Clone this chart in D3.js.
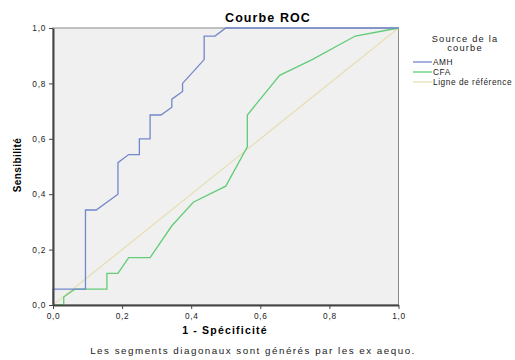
<!DOCTYPE html>
<html>
<head>
<meta charset="utf-8">
<script src="https://cdn.jsdelivr.net/npm/d3@7"></script>
<style>
body { margin: 0; background: #fff; }
text { font-family: "Liberation Sans", Arial, sans-serif; }
</style>
</head>
<body>
<div id="viz"></div>
<script>
// courbes ROC (x = 1 - spécificité, y = sensibilité)
var amhX = [0, 0, 0.094, 0.094, 0.125, 0.188, 0.188, 0.219, 0.25, 0.25, 0.281, 0.281, 0.3125, 0.344, 0.344, 0.375, 0.375, 0.4375, 0.4375, 0.469, 0.5, 1];
var amhY = [0, 0.057, 0.057, 0.343, 0.343, 0.4, 0.514, 0.543, 0.543, 0.6, 0.6, 0.686, 0.686, 0.714, 0.743, 0.771, 0.8, 0.886, 0.971, 0.971, 1, 1];
var cfaX = [0, 0.031, 0.031, 0.063, 0.156, 0.156, 0.188, 0.219, 0.281, 0.344, 0.406, 0.5, 0.5625, 0.5625, 0.656, 0.75, 0.875, 1];
var cfaY = [0, 0, 0.029, 0.057, 0.057, 0.114, 0.114, 0.171, 0.171, 0.286, 0.371, 0.429, 0.571, 0.686, 0.829, 0.886, 0.971, 1];
var refX = [0, 1];
var refY = [0, 1];
var ticks = [0, 0.2, 0.4, 0.6, 0.8, 1.0];
var seriesNames = ["AMH", "CFA", "Ligne de référence"];
var seriesColors = ["#7387cb", "#62cc78", "#e6dfb6"];

var width = 515, height = 360;
var margin = {top: 28, left: 53, right: 116.5, bottom: 55};

var svg = d3.select("#viz").append("svg")
    .attr("width", width).attr("height", height);

var x = d3.scaleLinear().domain([0, 1]).range([margin.left, width - margin.right]);
var y = d3.scaleLinear().domain([0, 1]).range([height - margin.bottom, margin.top]);

svg.append("rect")
    .attr("x", x(0)).attr("y", y(1))
    .attr("width", x(1) - x(0)).attr("height", y(0) - y(1))
    .attr("fill", "#f0f0f0")
    .attr("stroke", "#8a8a8a").attr("stroke-width", 1);

var fmt = function(d) { return d3.format(".1f")(d).replace(".", ","); };

var line = d3.line().x(function(d) { return x(d[0]); }).y(function(d) { return y(d[1]); });

var series = [d3.zip(amhX, amhY), d3.zip(cfaX, cfaY), d3.zip(refX, refY)];
// la ligne de référence est dessinée en dessous
[2, 1, 0].forEach(function(i) {
    svg.append("path")
        .datum(series[i])
        .attr("d", line)
        .attr("fill", "none")
        .attr("stroke", seriesColors[i])
        .attr("stroke-width", 1.3);
});

var xAxis = svg.append("g")
    .attr("transform", "translate(0," + y(0) + ")")
    .call(d3.axisBottom(x).tickValues(ticks).tickFormat(fmt).tickSize(4).tickSizeOuter(0));
var yAxis = svg.append("g")
    .attr("transform", "translate(" + x(0) + ",0)")
    .call(d3.axisLeft(y).tickValues(ticks).tickFormat(fmt).tickSize(4).tickSizeOuter(0));

[xAxis, yAxis].forEach(function(g) {
    g.select(".domain").attr("stroke", "#444").attr("stroke-width", 2);
    g.selectAll(".tick line").attr("stroke", "#444");
    g.selectAll(".tick text").attr("font-size", "8.3px").attr("fill", "#222")
        .attr("letter-spacing", "0.7px")
        .style("font-family", "'Liberation Sans', Arial, sans-serif");
});
xAxis.selectAll(".tick text").attr("dy", "0.9em");
yAxis.selectAll(".tick text").attr("x", -7);

svg.append("text")
    .attr("x", 268).attr("y", 22)
    .attr("text-anchor", "middle")
    .attr("font-size", "12.5px").attr("font-weight", "bold")
    .attr("letter-spacing", "1.1px")
    .text("Courbe ROC");

svg.append("text")
    .attr("x", 225).attr("y", 334)
    .attr("text-anchor", "middle")
    .attr("font-size", "10.5px").attr("font-weight", "bold")
    .attr("letter-spacing", "1.2px")
    .text("1 - Spécificité");

svg.append("text")
    .attr("transform", "translate(21,165) rotate(-90)")
    .attr("text-anchor", "middle")
    .attr("font-size", "10px").attr("font-weight", "bold")
    .attr("letter-spacing", "0.4px")
    .text("Sensibilité");

svg.append("text")
    .attr("x", 253).attr("y", 354)
    .attr("text-anchor", "middle")
    .attr("font-size", "9.8px").attr("fill", "#222")
    .attr("letter-spacing", "1.5px")
    .text("Les segments diagonaux sont générés par les ex aequo.");

// légende
var legend = svg.append("g");
legend.append("text").attr("x", 465).attr("y", 41.5).attr("text-anchor", "middle")
    .attr("font-size", "9.3px").attr("fill", "#222").attr("letter-spacing", "1.2px").text("Source de la");
legend.append("text").attr("x", 465).attr("y", 51).attr("text-anchor", "middle")
    .attr("font-size", "9.3px").attr("fill", "#222").attr("letter-spacing", "1.2px").text("courbe");
seriesNames.forEach(function(name, i) {
    var ly = 62 + i * 10;
    legend.append("line")
        .attr("x1", 413).attr("x2", 432).attr("y1", ly).attr("y2", ly)
        .attr("stroke", seriesColors[i]).attr("stroke-width", 1.3);
    legend.append("text")
        .attr("x", 433).attr("y", ly + 3)
        .attr("font-size", "8.3px").attr("fill", "#222").attr("letter-spacing", "0.55px")
        .text(name);
});
</script>
</body>
</html>
